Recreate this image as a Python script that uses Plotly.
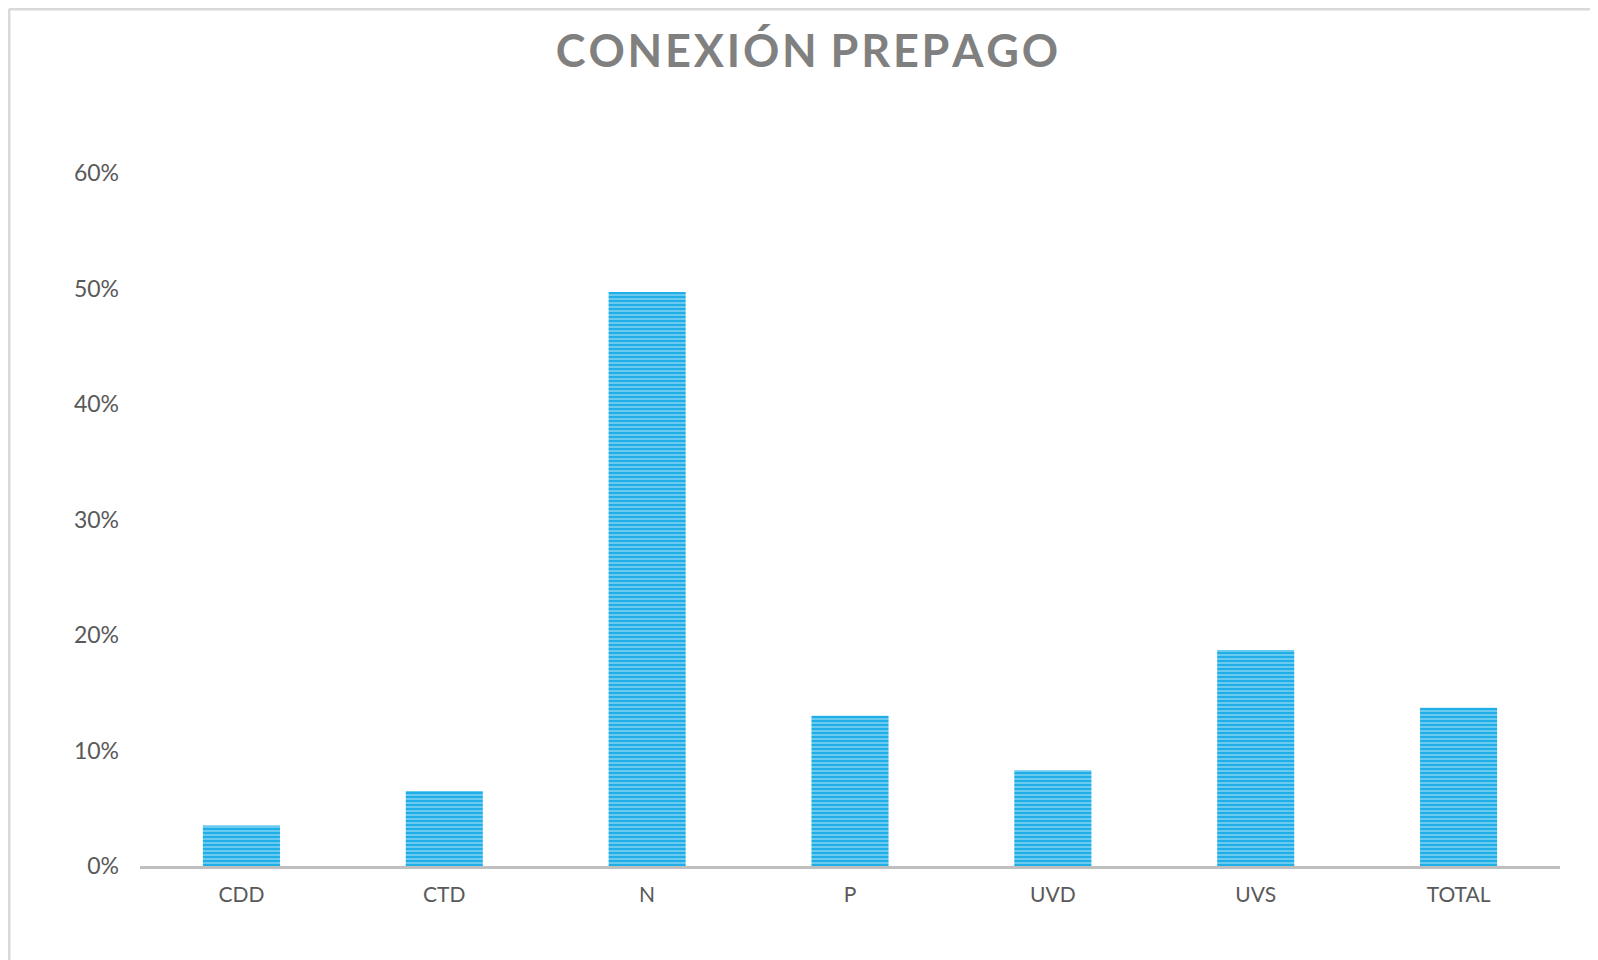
import plotly.graph_objects as go

# data
categories = ["CDD", "CTD", "N", "P", "UVD", "UVS", "TOTAL"]
values = [0.035, 0.065, 0.497, 0.130, 0.083, 0.187, 0.137]
y_ticks = [0, 0.1, 0.2, 0.3, 0.4, 0.5, 0.6]
y_tick_labels = ["0%", "10%", "20%", "30%", "40%", "50%", "60%"]
title_text = "CONEXIÓN PREPAGO"

FONT = "Lato"
W, H = 1598, 960
L, R, T, B = 132, 46, 165, 102   # plot area margins in px

fig = go.Figure()

fig.add_trace(
    go.Bar(
        x=categories,
        y=values,
        marker=dict(
            color="#1FAFE6",
            line=dict(width=0),
            pattern=dict(shape="-", fgcolor="#C4E9F9", bgcolor="#1FAFE6",
                         size=4, solidity=0.45, fillmode="overlay"),
        ),
        hovertemplate="%{x}: %{y:.1%}<extra></extra>",
    )
)

# chart border (only top and left edges visible)
pw, ph = W - L - R, H - T - B
bx = (1 - L) / pw
by = (H - B - 1) / ph
fig.add_shape(type="line", xref="paper", yref="paper", x0=bx, x1=bx, y0=by, y1=-1,
              line=dict(color="#D9D9D9", width=3), layer="below")
fig.add_shape(type="line", xref="paper", yref="paper", x0=bx, x1=1.2, y0=by, y1=by,
              line=dict(color="#D9D9D9", width=3), layer="below")

# letter-spaced title
spaced_title = " \u200a".join("\u200a".join(w) for w in title_text.split(" "))

fig.update_layout(
    width=W,
    height=H,
    margin=dict(l=L, r=R, t=T, b=B),
    paper_bgcolor="white",
    plot_bgcolor="white",
    bargap=0.62,
    showlegend=False,
    title=dict(
        text=spaced_title,
        font=dict(family=FONT, size=45, color="#808080", weight="bold"),
        x=0.5,
        xanchor="center",
        xref="container",
        y=1 - 43 / H,
        yanchor="middle",
    ),
    font=dict(family=FONT, color="#595959"),
)

fig.update_xaxes(
    showline=True,
    linecolor="#BFBFBF",
    linewidth=3,
    ticks="",
    showgrid=False,
    ticklabelstandoff=8,
    tickfont=dict(size=21, color="#595959"),
)
fig.update_yaxes(
    range=[0, 0.6],
    tickvals=y_ticks,
    ticktext=y_tick_labels,
    showgrid=False,
    zeroline=False,
    showline=False,
    ticks="",
    ticklabelstandoff=20,
    tickfont=dict(size=23, color="#595959"),
)

fig.write_html("out.html")
